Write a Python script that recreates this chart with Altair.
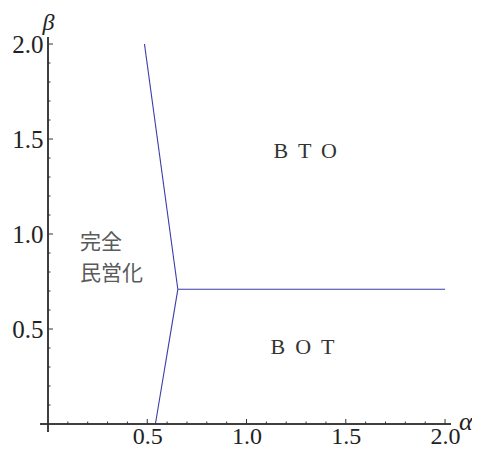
import altair as alt
import pandas as pd

# boundary segments (alpha, beta)
seg_id = ["upper", "upper", "right", "right", "lower", "lower"]
seg_order = [0, 1, 0, 1, 0, 1]
alpha_vals = [0.486, 0.654, 0.654, 2.0, 0.654, 0.541]
beta_vals = [2.0, 0.709, 0.709, 0.709, 0.709, 0.0]

# region labels
label_text = ["B \u2009T \u2009O", "B \u2009O \u2009T"]
label_x = [1.295, 1.282]
label_y = [1.437, 0.407]
jp_text = ["完全", "民営化"]
jp_x = [0.161, 0.161]
jp_y = [0.953, 0.789]

major_ticks = [0.5, 1.0, 1.5, 2.0]
minor_ticks = [0.1, 0.2, 0.3, 0.4, 0.6, 0.7, 0.8, 0.9, 1.1, 1.2, 1.3, 1.4,
               1.6, 1.7, 1.8, 1.9]

W, H = 403, 387
XD = [0, 2.03]
YD = [0, 2.037]
AX = "#333333"
SERIF = "Liberation Serif"

lines_df = pd.DataFrame({"seg": seg_id, "o": seg_order, "a": alpha_vals, "b": beta_vals})
lab_df = pd.DataFrame({"t": label_text, "a": label_x, "b": label_y})
jp_df = pd.DataFrame({"t": jp_text, "a": jp_x, "b": jp_y})
maj_df = pd.DataFrame({"v": major_ticks})
min_df = pd.DataFrame({"v": minor_ticks})

xs = alt.Scale(domain=XD, nice=False, zero=False)
ys = alt.Scale(domain=YD, nice=False, zero=False)

xaxis = alt.Axis(values=major_ticks, format=".1f", domain=False, ticks=False, grid=False,
                 labelFont=SERIF, labelFontSize=24, labelColor="#222222",
                 labelBaseline="alphabetic", labelPadding=19, title=None)
yaxis = alt.Axis(values=major_ticks, format=".1f", domain=False, ticks=False, grid=False,
                 labelFont=SERIF, labelFontSize=25, labelColor="#222222", labelPadding=5,
                 title=None)

lines = alt.Chart(lines_df).mark_line(color="#3b3ba6", strokeWidth=1.1).encode(
    x=alt.X("a:Q", scale=xs, axis=xaxis),
    y=alt.Y("b:Q", scale=ys, axis=yaxis),
    detail="seg:N",
    order="o:Q",
)

x_axis_line = alt.Chart(maj_df).mark_rule(color=AX, strokeWidth=1).encode(
    x=alt.value(-8), x2=alt.value(W), y=alt.value(H))
y_axis_line = alt.Chart(maj_df).mark_rule(color=AX, strokeWidth=1).encode(
    x=alt.value(0), y=alt.value(0), y2=alt.value(H + 8))

x_major = alt.Chart(maj_df).mark_rule(color=AX).encode(
    x=alt.X("v:Q", scale=xs), y=alt.value(H), y2=alt.value(H - 5))
x_minor = alt.Chart(min_df).mark_rule(color=AX).encode(
    x=alt.X("v:Q", scale=xs), y=alt.value(H), y2=alt.value(H - 2.5))
y_major = alt.Chart(maj_df).mark_rule(color=AX).encode(
    y=alt.Y("v:Q", scale=ys), x=alt.value(0), x2=alt.value(5))
y_minor = alt.Chart(min_df).mark_rule(color=AX).encode(
    y=alt.Y("v:Q", scale=ys), x=alt.value(0), x2=alt.value(2.5))

labels = alt.Chart(lab_df).mark_text(font=SERIF, fontSize=22, color="#333333",
                                     align="center", baseline="middle").encode(
    x=alt.X("a:Q", scale=xs), y=alt.Y("b:Q", scale=ys), text="t:N")

jp = alt.Chart(jp_df).mark_text(font="Noto Sans CJK JP", fontSize=21, color="#5a5a5a",
                                align="left", baseline="middle").encode(
    x=alt.X("a:Q", scale=xs), y=alt.Y("b:Q", scale=ys), text="t:N")

alpha_lbl = alt.Chart(maj_df.head(1)).mark_text(
    font=SERIF, fontSize=26, fontStyle="italic", color="#222222",
    align="left", baseline="alphabetic").encode(
    x=alt.value(411), y=alt.value(393), text=alt.value("α"))
beta_lbl = alt.Chart(maj_df.head(1)).mark_text(
    font=SERIF, fontSize=24, fontStyle="italic", color="#222222",
    align="center", baseline="alphabetic").encode(
    x=alt.value(0.5), y=alt.value(-7), text=alt.value("β"))

chart = alt.layer(
    lines, x_axis_line, y_axis_line, x_major, x_minor, y_major, y_minor,
    labels, jp, alpha_lbl, beta_lbl
).properties(
    width=W, height=H,
    autosize=alt.AutoSizeParams(type="none"),
    padding={"left": 40, "top": 29, "right": 21, "bottom": 23},
).configure_view(stroke=None)

chart.save("out.html", embed_options={"renderer": "svg", "actions": False})
